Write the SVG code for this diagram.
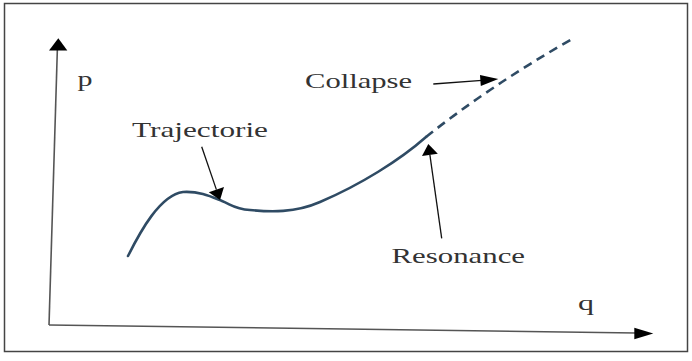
<svg xmlns="http://www.w3.org/2000/svg" width="692" height="361" viewBox="0 0 692 361">
<style>
.frame{fill:#fff;stroke:#444;stroke-width:1.5}
.axis{stroke:#555;stroke-width:1.6;fill:none}
.ann{stroke:#111;stroke-width:1.3;fill:none}
.head{fill:#000}
.curve{stroke:#2f4b64;stroke-width:2.6;fill:none;stroke-linecap:round}
.dash{stroke:#2f4b64;stroke-width:2.6;fill:none;stroke-dasharray:9 6}
.lbl{font-family:"Liberation Serif","Times New Roman",serif;font-size:21px;fill:#333}
</style>
<rect class="frame" x="4.5" y="3.5" width="683" height="348"/>
<g id="axes">
<line class="axis" x1="49" y1="325" x2="57.4" y2="48"/>
<polygon class="head" points="58.3,38.3 67.3,50.5 49,50.5"/>
<line class="axis" x1="49" y1="325" x2="636" y2="333"/>
<polygon class="head" points="653.3,333.5 634.3,339.3 634.3,327.7"/>
</g>
<g id="trajectory">
<path class="curve" d="M128,256 C140,232 160,195 183,192 C200,191 212,197 222,201 C232,205 235,209 250,210 C270,212 295,213 320,202 C360,185 400,160 426,137"/>
<path class="dash" d="M426,137 Q490,86 572,39"/>
</g>
<g id="connectors">
<line class="ann" x1="201.7" y1="146.7" x2="216.4" y2="189.6"/>
<polygon class="head" points="220,200 224,187 208.8,192.2"/>
<line class="ann" x1="441.7" y1="238.3" x2="429.9" y2="154.9"/>
<polygon class="head" points="428.3,144 437.8,153.8 422,156"/>
<line class="ann" x1="433.3" y1="84" x2="482" y2="80.3"/>
<polygon class="head" points="498.3,79 480.8,85.9 480,74.9"/>
</g>
<g id="label-p"><text class="lbl" x="77.5" y="86" textLength="15" lengthAdjust="spacingAndGlyphs">p</text></g>
<g id="label-q"><text class="lbl" x="578" y="310" textLength="16" lengthAdjust="spacingAndGlyphs">q</text></g>
<g id="label-trajectorie"><text class="lbl" x="132" y="137" textLength="136" lengthAdjust="spacingAndGlyphs">Trajectorie</text></g>
<g id="label-collapse"><text class="lbl" x="305" y="88" textLength="107" lengthAdjust="spacingAndGlyphs">Collapse</text></g>
<g id="label-resonance"><text class="lbl" x="391.5" y="263" textLength="133.5" lengthAdjust="spacingAndGlyphs">Resonance</text></g>
</svg>
